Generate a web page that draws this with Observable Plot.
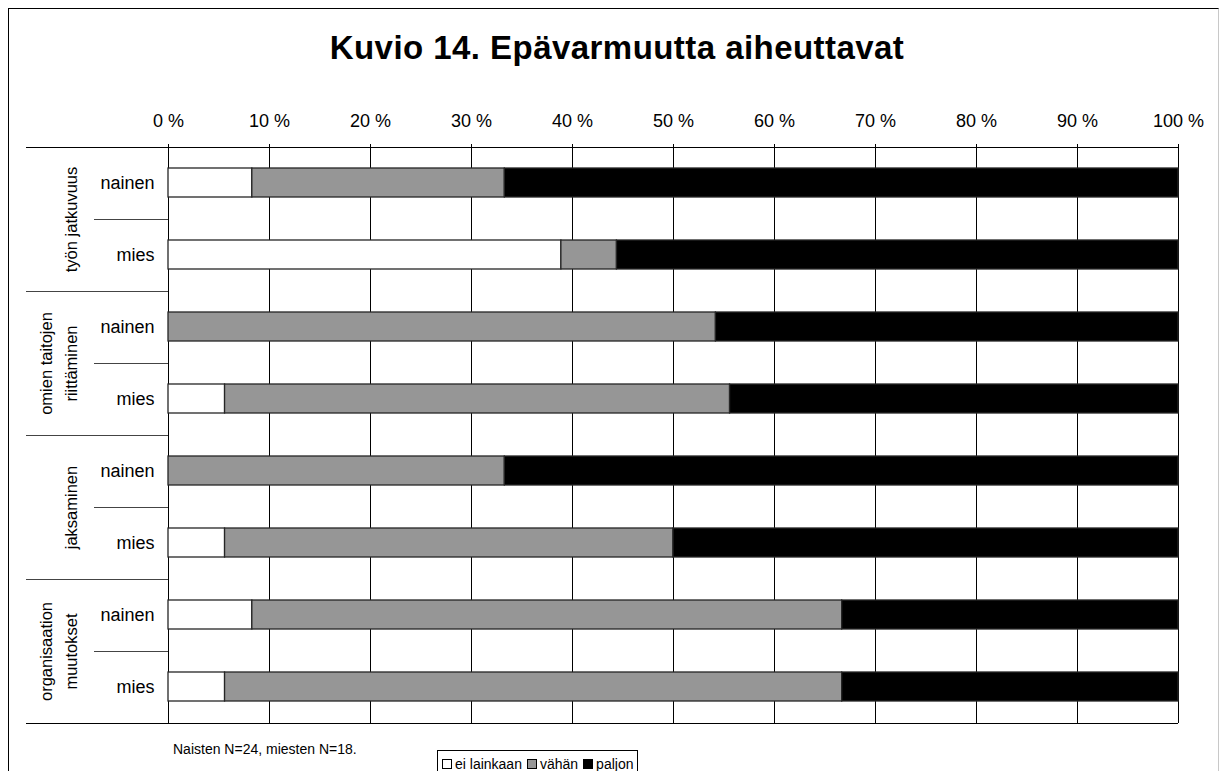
<!DOCTYPE html>
<html>
<head>
<meta charset="utf-8">
<script src="https://cdn.jsdelivr.net/npm/d3@7"></script>
<script src="https://cdn.jsdelivr.net/npm/@observablehq/plot@0.6"></script>
<style>
  html, body { margin: 0; padding: 0; background: #fff; overflow: hidden; }
  body { font-family: Arial, "Liberation Sans", sans-serif; color: #000; }
  #page { position: relative; width: 1223px; height: 771px; }
  #frame { position: absolute; left: 8px; top: 8px; width: 1209px; height: 820px;
           border-left: 1px solid #000; border-top: 1px solid #000; border-right: 1px solid #c8c8c8; }
  #title { position: absolute; left: 0; top: 29px; width: 1234px; text-align: center;
           font-weight: bold; font-size: 33px; letter-spacing: 0.45px; }
  #chart { position: absolute; left: 0; top: 0; }
  #caption { position: absolute; left: 173px; top: 741px; font-size: 14px; }
  #legend { position: absolute; left: 437px; top: 750px; width: 201px; height: 40px;
            border: 1px solid #000; font-size: 14px; box-sizing: border-box; padding: 5px 0 0 4px; white-space: nowrap; }
  .sw { display: inline-block; width: 8px; height: 8px; border: 1px solid #000; margin-right: 3px; vertical-align: 0px; }
  .item { margin-right: 5px; }
</style>
</head>
<body>
<div id="page">
  <div id="frame"></div>
  <div id="chart"></div>
  <div id="title"></div>
  <div id="caption"></div>
  <div id="legend"></div>
</div>
<script>
// ---- data ----
const titleText = "Kuvio 14. Epävarmuutta aiheuttavat";
const captionText = "Naisten N=24, miesten N=18.";
const groups = ["työn jatkuvuus", "omien taitojen riittäminen", "jaksaminen", "organisaation muutokset"];
const groupLabels = ["työn jatkuvuus", "omien taitojen\nriittäminen", "jaksaminen", "organisaation\nmuutokset"];
const genders = ["nainen", "mies"];
const responses = ["ei lainkaan", "vähän", "paljon"];
const responseColors = ["#ffffff", "#969696", "#000000"];
// rows: for each group, nainen then mies (percent)
const eiLainkaan = [8.3, 38.9, 0.0, 5.6, 0.0, 5.6, 8.3, 5.6];
const vahan      = [25.0, 5.5, 54.2, 50.0, 33.3, 44.4, 58.4, 61.1];
const paljon     = [66.7, 55.6, 45.8, 44.4, 66.7, 50.0, 33.3, 33.3];
const xTicks = [0, 10, 20, 30, 40, 50, 60, 70, 80, 90, 100];

// ---- build table ----
const keys = [];
groups.forEach(g => genders.forEach(s => keys.push(g + "|" + s)));
const seriesValues = [eiLainkaan, vahan, paljon];
const table = [];
responses.forEach((r, ri) => {
  keys.forEach((k, i) => table.push({key: k, response: r, value: seriesValues[ri][i]}));
});
const groupRows = groups.map((g, i) => ({key: g + "|" + genders[0], label: groupLabels[i]}));

// ---- layout ----
const W = 1223, H = 771, MT = 147, MB = 48, ML = 168, MR = 45;
const band = (H - MT - MB) / keys.length;
const FONT = "Arial, 'Liberation Sans', sans-serif";

const plot = Plot.plot({
  width: W, height: H,
  marginTop: MT, marginBottom: MB, marginLeft: ML, marginRight: MR,
  style: {fontFamily: FONT, fontSize: "18px", background: "transparent", overflow: "visible", color: "#000"},
  x: {domain: [0, 100]},
  y: {domain: keys, padding: 0},
  color: {domain: responses, range: responseColors},
  marks: [
    Plot.ruleX(xTicks, {stroke: "#000", strokeWidth: 1}),
    Plot.barX(table, Plot.stackX({
      x: "value", y: "key", fill: "response",
      stroke: "#262626", strokeWidth: 1.3, insetTop: 21, insetBottom: 22
    })),
    Plot.axisX({anchor: "top", ticks: xTicks, tickFormat: d => d + " %", tickSize: 4,
                tickPadding: 17, fontSize: 18, label: null, stroke: "#000"}),
    Plot.axisY({anchor: "left", tickSize: 0, tickPadding: 14, fontSize: 18, label: null,
                tickFormat: k => k.split("|")[1]}),
    Plot.text(groupRows, {y: "key", text: "label", frameAnchor: "left", dx: -92, dy: band / 2,
                          rotate: -90, textAnchor: "middle", lineAnchor: "bottom",
                          fontSize: 16.5, lineHeight: 1.5, fill: "#000"})
  ]
});
document.getElementById("chart").appendChild(plot);

// ---- label-area divider lines, from the plot's own scales ----
const xs = plot.scale("x"), ys = plot.scale("y");
const yb = d3.scaleBand().domain(ys.domain).range(ys.range)
  .paddingInner(ys.paddingInner ?? 0).paddingOuter(ys.paddingOuter ?? 0).align(ys.align ?? 0.5);
const x0 = xs.apply(0), x100 = xs.apply(100);
const leftEdge = x0 - 142, subEdge = x0 - 74;
const svg = d3.select(plot);
const g = svg.append("g").attr("stroke", "#333").attr("stroke-width", 1).attr("shape-rendering", "crispEdges");
const lines = [];
groups.forEach((gr, i) => {
  const top = yb(gr + "|" + genders[0]);
  lines.push([leftEdge, i === 0 ? x100 : x0, top, i === 0 ? "#000" : "#444"]);
  lines.push([subEdge, x0, yb(gr + "|" + genders[1]), "#444"]);
});
const last = yb(keys[keys.length - 1]) + yb.bandwidth();
lines.push([leftEdge, x100, last, "#000"]);
g.selectAll("line").data(lines).join("line")
  .attr("x1", d => d[0]).attr("x2", d => d[1])
  .attr("y1", d => Math.round(d[2]) + 0.5).attr("y2", d => Math.round(d[2]) + 0.5)
  .attr("stroke", d => d[3]);

// ---- title, caption, legend ----
document.getElementById("title").textContent = titleText;
document.getElementById("caption").textContent = captionText;
const legend = document.getElementById("legend");
responses.forEach((r, i) => {
  const item = document.createElement("span");
  item.className = "item";
  const sw = document.createElement("span");
  sw.className = "sw";
  sw.style.background = responseColors[i];
  item.appendChild(sw);
  item.appendChild(document.createTextNode(r));
  legend.appendChild(item);
});
</script>
</body>
</html>
